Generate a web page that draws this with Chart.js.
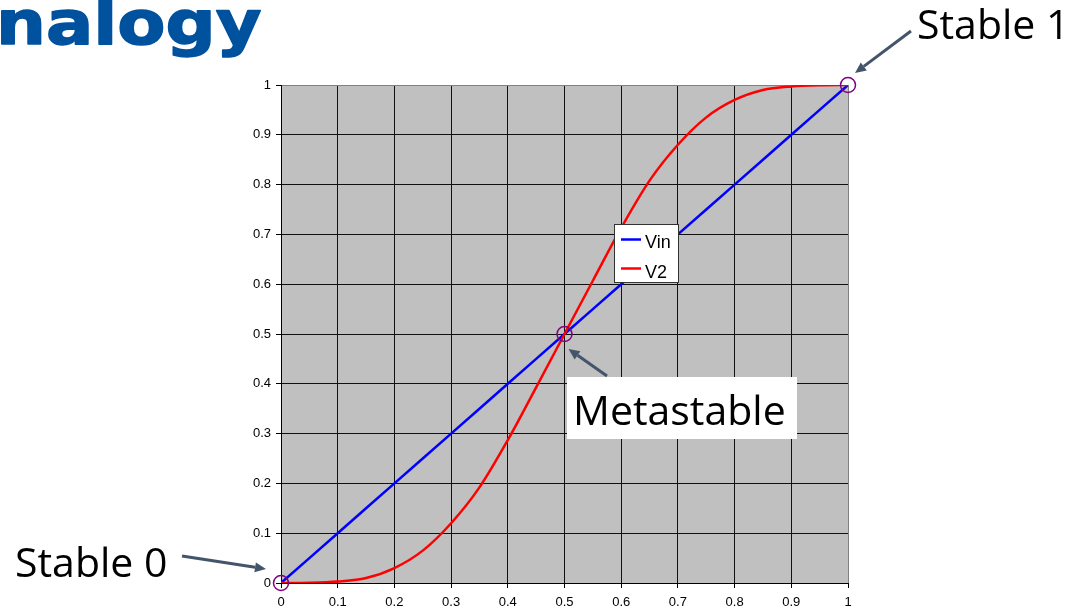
<!DOCTYPE html>
<html>
<head>
<meta charset="utf-8">
<title>Vin vs V2 transfer</title>
<script src="https://cdn.jsdelivr.net/npm/chart.js@4.4.1/dist/chart.umd.min.js"></script>
<style>
  html, body { margin: 0; padding: 0; background: #ffffff; }
  #wrap { position: relative; width: 1072px; height: 614px; overflow: hidden; }
  canvas { display: block; }
</style>
</head>
<body>
<div id="wrap"><canvas id="chart" width="1072" height="614"></canvas></div>
<script>
// Input voltage sweep (normalised)
const xValues = [0, 0.05, 0.1, 0.15, 0.2, 0.25, 0.3, 0.35, 0.4, 0.45, 0.5,
                 0.55, 0.6, 0.65, 0.7, 0.75, 0.8, 0.85, 0.9, 0.95, 1];
// Vin follows the input
const vinValues = [0, 0.05, 0.1, 0.15, 0.2, 0.25, 0.3, 0.35, 0.4, 0.45, 0.5,
                   0.55, 0.6, 0.65, 0.7, 0.75, 0.8, 0.85, 0.9, 0.95, 1];
// Output of the second stage
const v2Values = [0, 0.0005, 0.003, 0.01, 0.03, 0.065, 0.12, 0.192, 0.287, 0.393, 0.5,
                  0.607, 0.713, 0.808, 0.88, 0.935, 0.97, 0.99, 0.997, 0.9995, 1];
// Equilibrium points (where V2 == Vin)
const stateX = [0, 0.5, 1];
const stateY = [0, 0.5, 1];
const stateNames = ['Stable 0', 'Metastable', 'Stable 1'];
// Axis tick labels
const tickLabels = ['0', '0.1', '0.2', '0.3', '0.4', '0.5', '0.6', '0.7', '0.8', '0.9', '1'];

const seriesNames = ['Vin', 'V2'];
const seriesColors = ['#0000ff', '#ff0000'];

const toPoints = (xs, ys) => xs.map((x, i) => ({ x: x, y: ys[i] }));

function arrow(ctx, x1, y1, x2, y2) {
  const ang = Math.atan2(y2 - y1, x2 - x1);
  const head = 11, half = 5;
  const bx = x2 - head * Math.cos(ang), by = y2 - head * Math.sin(ang);
  ctx.beginPath();
  ctx.moveTo(x1, y1);
  ctx.lineTo(bx, by);
  ctx.stroke();
  ctx.beginPath();
  ctx.moveTo(x2, y2);
  ctx.lineTo(bx + half * Math.sin(ang), by - half * Math.cos(ang));
  ctx.lineTo(bx - half * Math.sin(ang), by + half * Math.cos(ang));
  ctx.closePath();
  ctx.fill();
}

const decorations = {
  id: 'decorations',
  beforeDraw(chart) {
    const { ctx, chartArea: a } = chart;
    ctx.save();
    ctx.fillStyle = '#c0c0c0';
    ctx.fillRect(a.left, a.top, a.right - a.left, a.bottom - a.top);
    ctx.restore();
  },
  afterDraw(chart) {
    const { ctx } = chart;
    const xs = chart.scales.x, ys = chart.scales.y;
    const px = v => xs.getPixelForValue(v);
    const py = v => ys.getPixelForValue(v);

    ctx.save();

    // legend box
    const lx = 614.5, ly = 224.5, lw = 64, lh = 58;
    ctx.fillStyle = '#ffffff';
    ctx.fillRect(lx, ly, lw, lh);
    ctx.strokeStyle = '#333333';
    ctx.lineWidth = 1;
    ctx.strokeRect(lx, ly, lw, lh);
    ctx.font = '18px "Liberation Sans", Arial, sans-serif';
    ctx.textBaseline = 'alphabetic';
    ctx.textAlign = 'left';
    seriesNames.forEach((name, i) => {
      const yy = 239.5 + i * 29;
      ctx.strokeStyle = seriesColors[i];
      ctx.lineWidth = 2.5;
      ctx.beginPath();
      ctx.moveTo(621, yy);
      ctx.lineTo(641, yy);
      ctx.stroke();
      ctx.fillStyle = '#000000';
      ctx.fillText(name, 645, 248 + i * 30);
    });

    // Metastable label box
    ctx.fillStyle = '#ffffff';
    ctx.fillRect(567, 377, 230, 62);

    // arrows pointing at equilibrium points
    ctx.strokeStyle = '#44546a';
    ctx.fillStyle = '#44546a';
    ctx.lineWidth = 3;
    ctx.lineCap = 'butt';
    arrow(ctx, 182, 556, px(stateX[0]) - 15, py(stateY[0]) - 14);
    arrow(ctx, 607, 376, px(stateX[1]) + 4, py(stateY[1]) + 15);
    arrow(ctx, 911, 31, px(stateX[2]) + 7, py(stateY[2]) - 12);

    // state labels
    ctx.fillStyle = '#000000';
    ctx.font = '41px "Open Sans", "Noto Sans", sans-serif';
    ctx.fillText(stateNames[0], 15, 577);
    ctx.fillText(stateNames[1], 573, 425);
    ctx.fillText(stateNames[2], 917, 39);

    // logo wordmark
    ctx.font = 'bold 61px "DejaVu Sans", sans-serif';
    ctx.fillStyle = '#00519e';
    ctx.strokeStyle = '#00519e';
    ctx.lineWidth = 1.5;
    ctx.lineJoin = 'round';
    ctx.translate(-4, 44);
    ctx.scale(1.15, 1);
    ctx.fillText('nalogy', 0, 0);
    ctx.strokeText('nalogy', 0, 0);

    ctx.restore();
  }
};

const gridColor = last => ctx => (ctx.index === last ? '#808080' : '#111111');
const tickFont = { family: '"Liberation Sans", Arial, sans-serif', size: 13 };

new Chart(document.getElementById('chart'), {
  type: 'line',
  data: {
    datasets: [
      {
        label: 'states',
        data: toPoints(stateX, stateY),
        showLine: false,
        pointRadius: 7.5,
        pointHoverRadius: 7.5,
        pointBorderWidth: 1.5,
        pointBorderColor: '#800080',
        pointBackgroundColor: 'rgba(0,0,0,0)',
        clip: false,
        order: 0
      },
      {
        label: seriesNames[1],
        data: toPoints(xValues, v2Values),
        borderColor: seriesColors[1],
        borderWidth: 2.5,
        pointRadius: 0,
        cubicInterpolationMode: 'monotone',
        fill: false,
        order: 1
      },
      {
        label: seriesNames[0],
        data: toPoints(xValues, vinValues),
        borderColor: seriesColors[0],
        borderWidth: 2.5,
        pointRadius: 0,
        tension: 0,
        fill: false,
        order: 2
      }
    ]
  },
  options: {
    responsive: false,
    animation: false,
    devicePixelRatio: 1,
    layout: { padding: { left: 241, right: 224, top: 85, bottom: 0 } },
    plugins: { legend: { display: false }, tooltip: { enabled: false } },
    scales: {
      x: {
        type: 'linear',
        min: 0,
        max: 1,
        afterFit: s => { s.height = 31; },
        ticks: {
          stepSize: 0.1,
          autoSkip: false,
          maxRotation: 0,
          padding: 7,
          color: '#000000',
          font: tickFont,
          callback: (v, i) => tickLabels[i]
        },
        grid: { color: gridColor(10), tickColor: '#000000', tickLength: 5, lineWidth: 1 },
        border: { color: '#000000', width: 1 }
      },
      y: {
        type: 'linear',
        min: 0,
        max: 1,
        afterFit: s => { s.width = 40; },
        ticks: {
          stepSize: 0.1,
          autoSkip: false,
          padding: 5,
          color: '#000000',
          font: tickFont,
          callback: (v, i) => tickLabels[i]
        },
        grid: { color: gridColor(10), tickColor: '#000000', tickLength: 5, lineWidth: 1 },
        border: { color: '#000000', width: 1 }
      }
    }
  },
  plugins: [decorations]
});
</script>
</body>
</html>
